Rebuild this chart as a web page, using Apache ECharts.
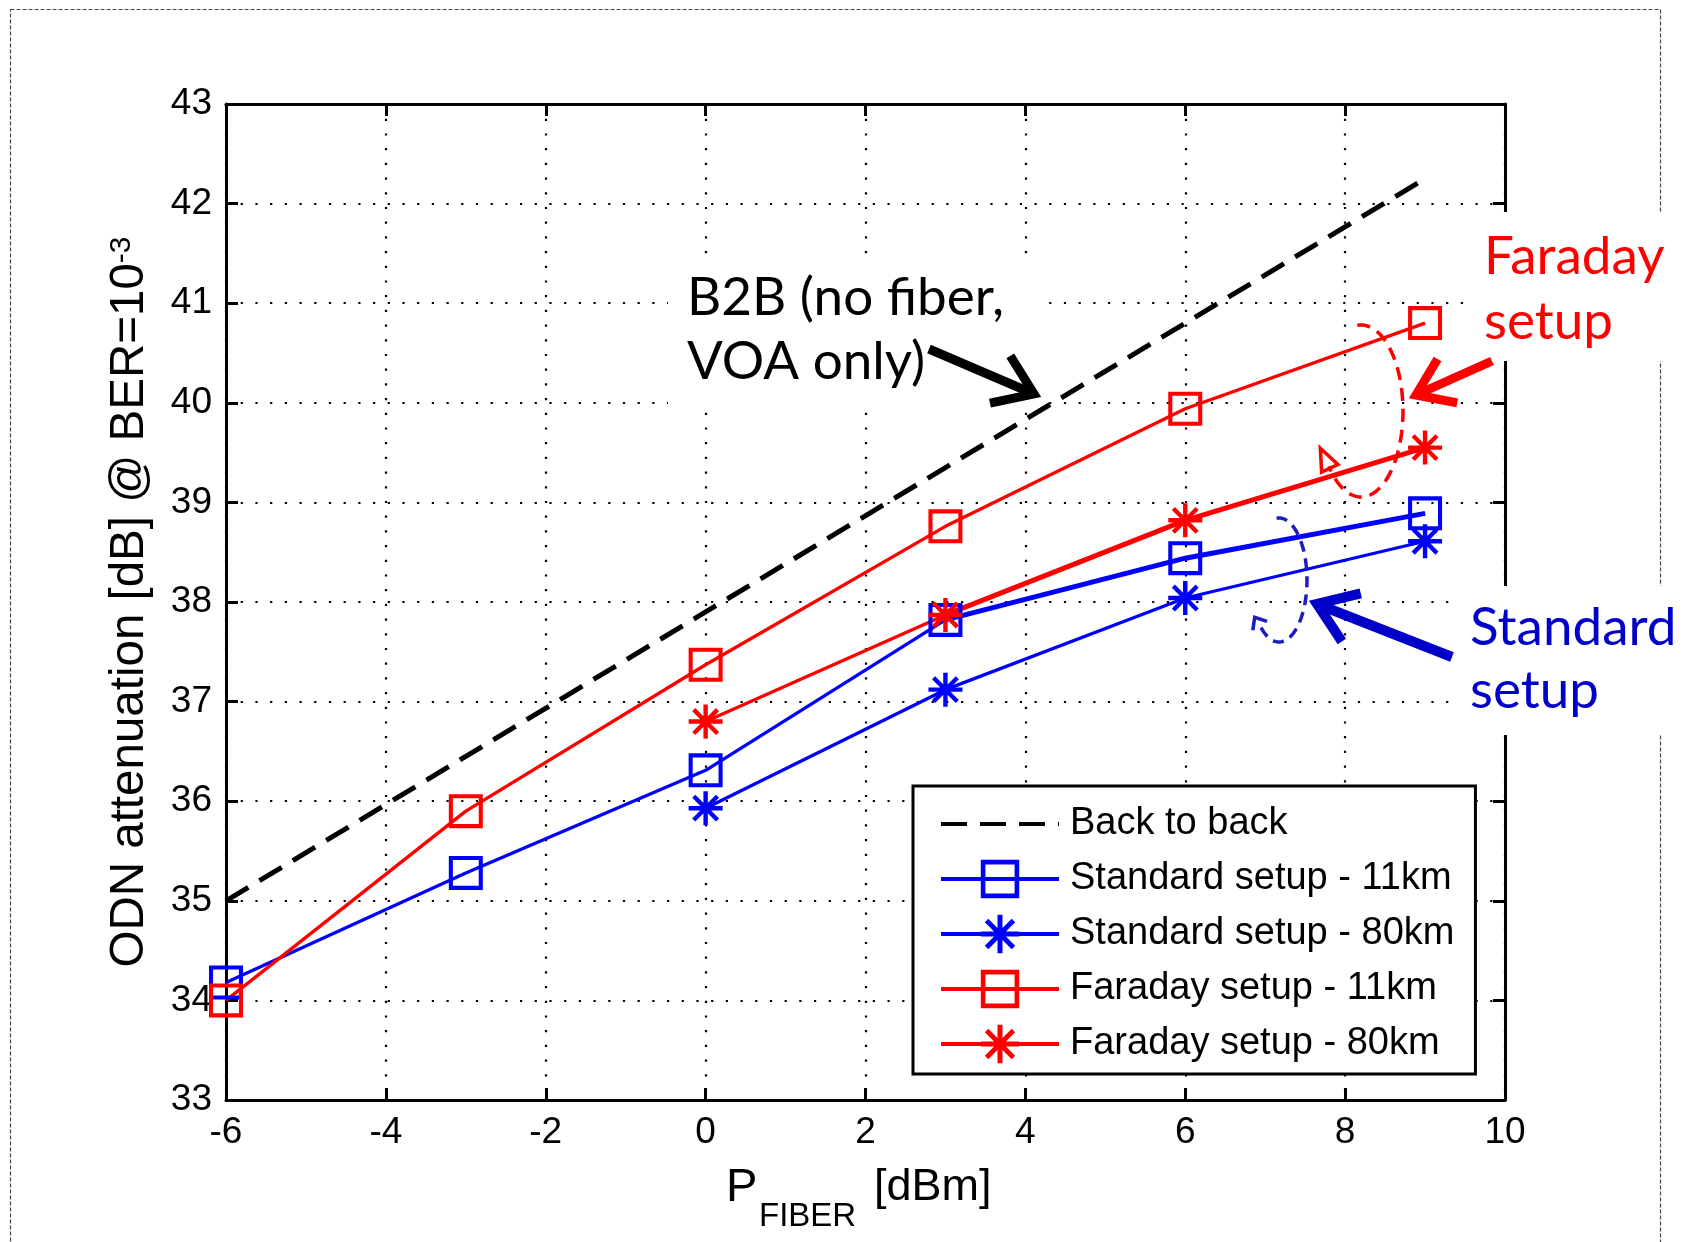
<!DOCTYPE html>
<html><head><meta charset="utf-8">
<script src="https://cdn.jsdelivr.net/npm/echarts@6/dist/echarts.min.js"></script>
<style>html,body{margin:0;padding:0;background:#fff}#c{width:1683px;height:1242px}</style>
</head><body><div id="c"></div>
<script>
// ---- data ----
const pFiber = [-6, -3, 0, 3, 6, 9];
const b2b   = [35.0, 36.45, 37.9, 39.35, 40.8, 42.25];
const std11 = [34.18, 35.28, 36.31, 37.82, 38.44, 38.89];
const std80 = [null, null, 35.93, 37.12, 38.04, 38.61];
const far11 = [34.0, 35.90, 37.37, 38.76, 39.94, 40.80];
const far80 = [null, null, 36.80, 37.87, 38.82, 39.55];
const seriesNames = ['Back to back', 'Standard setup - 11km', 'Standard setup - 80km', 'Faraday setup - 11km', 'Faraday setup - 80km'];

const pairs = (arr, from) => pFiber.map((x, i) => [x, arr[i]]).filter((p, i) => p[1] != null && i >= (from || 0));

const SQUARE = 'path://M0,0L20,0L20,20L0,20Z M2.4,2.4L2.4,17.6L17.6,17.6L17.6,2.4Z';
const STAR = 'path://M0,8.7L20,8.7L20,11.3L0,11.3Z M8.7,0L11.3,0L11.3,20L8.7,20Z M2.1,3.9L3.9,2.1L17.9,16.1L16.1,17.9Z M16.1,2.1L17.9,3.9L3.9,17.9L2.1,16.1Z';
const BLUE = '#0000ff', RED = '#ff0000', DBLUE = '#0000c8';
const TICKFONT = 'Liberation Sans, Arial, sans-serif';
const ANNFONT = 'Lato, Open Sans, sans-serif';

function mkSeries(name, arr, color, symbol) {
  return {
    name, type: 'line', data: pairs(arr), clip: false, z: 3,
    symbol, symbolSize: 34, showSymbol: true,
    lineStyle: { color, width: 3.3 },
    itemStyle: { color, borderWidth: 0 },
    emphasis: { disabled: true }, animation: false
  };
}
// thicker overdrawn segments seen in the reference (3 dBm .. 9 dBm)
function boldSeg(arr, color) {
  return { type: 'line', data: pairs(arr, 3), clip: false, z: 2, symbol: 'none', silent: true,
    lineStyle: { color, width: 5 }, emphasis: { disabled: true }, animation: false };
}

// decorative helpers
function ellipsePts(cx, cy, rx, ry, t0, t1) {
  const pts = [];
  for (let k = 0; k <= 60; k++) {
    const t = (t0 + (t1 - t0) * k / 60) * Math.PI / 180;
    pts.push([cx + rx * Math.cos(t), cy + ry * Math.sin(t)]);
  }
  return pts;
}
function headPts(tip, from, len, ang) {
  const dx = from[0] - tip[0], dy = from[1] - tip[1];
  const L = Math.hypot(dx, dy); const ux = dx / L, uy = dy / L;
  const a = ang * Math.PI / 180, c = Math.cos(a), s = Math.sin(a);
  return [[tip[0] + len * (ux * c - uy * s), tip[1] + len * (ux * s + uy * c)], tip,
          [tip[0] + len * (ux * c + uy * s), tip[1] + len * (-ux * s + uy * c)]];
}
function arrow(from, tip, color, w, len) {
  return [
    { type: 'line', z: 6, shape: { x1: from[0], y1: from[1], x2: tip[0], y2: tip[1] }, style: { stroke: color, lineWidth: w } },
    { type: 'polyline', z: 6, shape: { points: headPts(tip, from, len, 35) }, style: { stroke: color, lineWidth: w, fill: 'none', lineJoin: 'miter' } }
  ];
}
function annText(x, y, text, color) {
  return { type: 'text', z: 6, x, y, style: { text, fill: color, font: '53px ' + ANNFONT, verticalAlign: 'middle', align: 'left' } };
}
function plainText(x, y, text, size) {
  return { type: 'text', z: 6, x, y, style: { text, fill: '#000', font: size + 'px ' + TICKFONT, verticalAlign: 'middle', align: 'left' } };
}
function extend(p, q, d) { const dx = p[0] - q[0], dy = p[1] - q[1], L = Math.hypot(dx, dy); return [p[0] + dx / L * d, p[1] + dy / L * d]; }

const redEll = ellipsePts(1361, 411, 42, 86, -95, 140);
const redEnd = redEll[redEll.length - 1], redPrev = redEll[redEll.length - 3];
const bluEll = ellipsePts(1279, 580, 28, 62, -95, 130);
const bluEnd = bluEll[bluEll.length - 1], bluPrev = bluEll[bluEll.length - 3];
const redTip = extend(redEnd, redPrev, 20);
const bluTip = extend(bluEnd, bluPrev, 12);

const axisCommon = {
  type: 'value',
  axisLine: { show: true, onZero: false, lineStyle: { color: '#000', width: 3 } },
  axisTick: { show: true, inside: true, length: 12, lineStyle: { color: '#000', width: 3 } }
};
const dotted = { show: true, lineStyle: { color: '#000', width: 2.2, type: [2.2, 12.5] } };

const option = {
  animation: false,
  backgroundColor: '#fff',
  grid: { left: 226, top: 104, width: 1279, height: 996, containLabel: false },
  xAxis: [
    Object.assign({}, axisCommon, {
      position: 'bottom', min: -6, max: 10, interval: 2,
      axisLabel: { margin: 14, fontSize: 37, fontFamily: TICKFONT, color: '#000' },
      splitLine: dotted
    }),
    Object.assign({}, axisCommon, {
      position: 'top', min: -6, max: 10, interval: 2,
      axisLabel: { show: false }, splitLine: { show: false }
    })
  ],
  yAxis: [
    Object.assign({}, axisCommon, {
      position: 'left', min: 33, max: 43, interval: 1,
      axisLabel: { margin: 14, fontSize: 37, fontFamily: TICKFONT, color: '#000' },
      splitLine: dotted,
      name: '{m|ODN attenuation [dB] @ BER=10}{s|-3}', nameLocation: 'middle', nameGap: 72,
      nameMoveOverlap: false,
      nameTextStyle: { color: '#000', fontFamily: TICKFONT, rich: {
        m: { fontSize: 47.5, lineHeight: 47, fontFamily: TICKFONT, color: '#000', verticalAlign: 'bottom' },
        s: { fontSize: 30, lineHeight: 30, fontFamily: TICKFONT, color: '#000', verticalAlign: 'top', padding: [0, 0, 32, 0] } } }
    }),
    Object.assign({}, axisCommon, {
      position: 'right', min: 33, max: 43, interval: 1,
      axisLabel: { show: false }, splitLine: { show: false }
    })
  ],
  legend: {
    orient: 'vertical', left: 913, top: 786,
    padding: [18, 21, 10, 26], itemWidth: 118, itemHeight: 48, itemGap: 15,
    borderColor: '#000', borderWidth: 3, borderRadius: 0, backgroundColor: '#fff',
    selectedMode: false,
    lineStyle: { width: 4 }, itemStyle: { borderWidth: 0 },
    textStyle: { fontFamily: TICKFONT, fontSize: 38, lineHeight: 40, color: '#000', padding: [0, 0, 0, 6] },
    data: seriesNames
  },
  series: [
    { name: seriesNames[0], type: 'line', data: pairs(b2b), symbol: 'circle', showSymbol: false, clip: false,
      lineStyle: { color: '#000', width: 5, type: [26, 13] }, itemStyle: { color: 'rgba(0,0,0,0)' },
      emphasis: { disabled: true }, animation: false },
    mkSeries(seriesNames[1], std11, BLUE, SQUARE),
    mkSeries(seriesNames[2], std80, BLUE, STAR),
    mkSeries(seriesNames[3], far11, RED, SQUARE),
    mkSeries(seriesNames[4], far80, RED, STAR),
    boldSeg(std11, BLUE),
    boldSeg(far80, RED)
  ],
  graphic: { elements: [
    // outer dashed frame
    { type: 'rect', z: 0, shape: { x: 10.5, y: 9.5, width: 1650, height: 1300 }, style: { fill: 'none', stroke: '#444', lineWidth: 1.2, lineDash: [4, 2] } },
    // white backgrounds behind annotation text
    { type: 'rect', z: 1, shape: { x: 668, y: 262, width: 378, height: 146 }, style: { fill: '#fff' } },
    { type: 'rect', z: 1, shape: { x: 1470, y: 212, width: 213, height: 149 }, style: { fill: '#fff' } },
    { type: 'rect', z: 1, shape: { x: 1455, y: 586, width: 228, height: 149 }, style: { fill: '#fff' } },
    // x axis title
    plainText(726, 1188, 'P', 47),
    plainText(759, 1217, 'FIBER', 33),
    plainText(874, 1188, '[dBm]', 45),
    annText(687, 298, 'B2B (no fiber,', '#000'),
    annText(687, 362, 'VOA only)', '#000'),
    annText(1484, 257, 'Faraday', RED),
    annText(1484, 322, 'setup', RED),
    annText(1470, 628, 'Standard', DBLUE),
    annText(1470, 691, 'setup', DBLUE),
    ...arrow([929, 349], [1034, 394], '#000', 9, 45),
    ...arrow([1492, 361], [1416, 395], RED, 9, 42),
    ...arrow([1452, 657], [1317, 604], DBLUE, 10, 45),
    { type: 'polyline', z: 6, shape: { points: redEll }, style: { stroke: RED, lineWidth: 3.5, fill: 'none', lineDash: [13, 8] } },
    { type: 'polygon', z: 6, shape: { points: headPts(redTip, redEnd, 24, 22) }, style: { stroke: RED, lineWidth: 3.5, fill: 'none' } },
    { type: 'polyline', z: 6, shape: { points: bluEll }, style: { stroke: '#1c1cc0', lineWidth: 3.5, fill: 'none', lineDash: [11, 7] } },
    { type: 'polyline', z: 6, shape: { points: headPts(bluTip, bluEnd, 13, 40) }, style: { stroke: '#1c1cc0', lineWidth: 3.5, fill: 'none' } }
  ] }
};

const chart = echarts.init(document.getElementById('c'), null, { renderer: 'canvas' });
chart.setOption(option);
</script>
</body></html>
